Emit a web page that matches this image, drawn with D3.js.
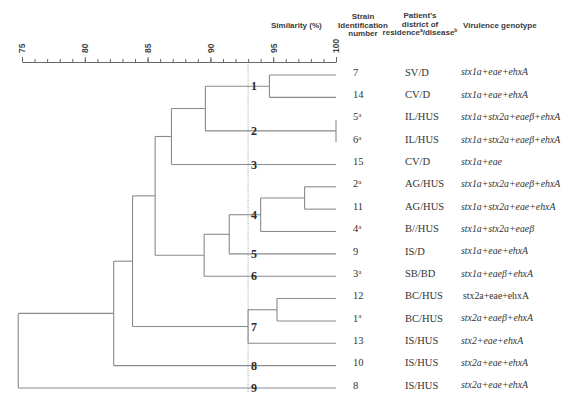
<!DOCTYPE html>
<html>
<head>
<meta charset="utf-8">
<script src="https://cdn.jsdelivr.net/npm/d3@7"></script>
<style>
  html, body { margin: 0; padding: 0; background: #fff; }
  svg { display: block; }
</style>
</head>
<body>
<svg id="chart" width="579" height="402"></svg>
<script>
// ---- data ----
const strainIds   = ["7", "14", "5", "6", "15", "2", "11", "4", "9", "3", "12", "1", "13", "10", "8"];
const strainSup   = ["",  "",   "a", "a", "",   "a", "",   "a", "",  "a", "",   "a", "",   "",   ""];
const districts   = ["SV/D", "CV/D", "IL/HUS", "IL/HUS", "CV/D", "AG/HUS", "AG/HUS", "B//HUS", "IS/D", "SB/BD", "BC/HUS", "BC/HUS", "IS/HUS", "IS/HUS", "IS/HUS"];
const genotypes   = ["stx1a+eae+ehxA", "stx1a+eae+ehxA", "stx1a+stx2a+eaeβ+ehxA", "stx1a+stx2a+eaeβ+ehxA",
                     "stx1a+eae", "stx1a+stx2a+eaeβ+ehxA", "stx1a+stx2a+eae+ehxA", "stx1a+stx2a+eaeβ",
                     "stx1a+eae+ehxA", "stx1a+eaeβ+ehxA", "stx2a+eae+ehxA", "stx2a+eaeβ+ehxA",
                     "stx2+eae+ehxA", "stx2a+eae+ehxA", "stx2a+eae+ehxA"];
const genotypeItalic = [true, true, true, true, true, true, true, true, true, true, false, true, true, true, true];
// linkage: [childA, childB, similarity %]; indices < 15 are leaves, 15+i is merge i
const merges = [
  [0, 1, 94.7],
  [2, 3, 100],
  [15, 16, 89.6],
  [17, 4, 86.9],
  [5, 6, 97.5],
  [19, 7, 94.0],
  [20, 8, 91.5],
  [21, 9, 89.5],
  [18, 22, 85.6],
  [10, 11, 95.3],
  [24, 12, 93.0],
  [23, 25, 83.8],
  [26, 13, 82.3],
  [27, 14, 74.7]
];
const clusterLabels = ["1", "2", "3", "4", "5", "6", "7", "8", "9"];
const clusterNodes  = [15, 16, 4, 20, 8, 9, 25, 13, 14];
const cutoff = 93.0;
const axisTicks = [75, 80, 85, 90, 95, 100];
const minorTicks = d3.range(75, 101, 1);

// ---- drawing ----
const svg = d3.select("#chart");
const x = d3.scaleLinear().domain([75, 100]).range([22, 336]);
const y = d3.scalePoint().domain(d3.range(strainIds.length)).range([75, 388]);

const lineColor = "#8a8a8a";
const textColor = "#333";

// node positions
const n = strainIds.length;
const nodes = [];
for (let i = 0; i < n; i++) nodes.push({ y: y(i), sim: 100 });
merges.forEach(m => {
  const a = nodes[m[0]], b = nodes[m[1]];
  nodes.push({ y: (a.y + b.y) / 2, sim: m[2], a, b });
});

// axis
const axisY = 62;
const gMinor = svg.append("g").attr("transform", `translate(0,${axisY})`)
  .call(d3.axisTop(x).tickValues(minorTicks).tickSize(3).tickSizeOuter(0).tickFormat(""));
gMinor.selectAll("path, line").attr("stroke", "#666");
const gMajor = svg.append("g").attr("transform", `translate(0,${axisY})`)
  .call(d3.axisTop(x).tickValues(axisTicks).tickSize(5).tickSizeOuter(0).tickFormat(d3.format("d")));
gMajor.select(".domain").remove();
gMajor.selectAll("line").attr("stroke", "#666");
gMajor.selectAll("text")
  .attr("transform", "rotate(-90)")
  .attr("x", 9).attr("y", 0).attr("dy", "0.35em")
  .attr("text-anchor", "start")
  .attr("fill", "#444")
  .style("font-family", "'Liberation Sans', Arial, sans-serif")
  .style("font-weight", "bold")
  .style("font-size", "8.5px");

// cutoff dashed line
svg.append("line")
  .attr("x1", x(cutoff)).attr("x2", x(cutoff))
  .attr("y1", axisY).attr("y2", 393)
  .attr("stroke", "#888").attr("stroke-width", 0.8)
  .attr("stroke-dasharray", "1,1.3");

// dendrogram
const gTree = svg.append("g").attr("fill", "none").attr("stroke", lineColor).attr("stroke-width", 1.1);
nodes.forEach(nd => {
  if (!nd.a) {
    return;
  }
  const xm = x(nd.sim);
  gTree.append("line").attr("x1", xm).attr("x2", xm).attr("y1", nd.a.y).attr("y2", nd.b.y);
  [nd.a, nd.b].forEach(c => {
    gTree.append("line").attr("x1", xm).attr("x2", x(c.sim)).attr("y1", c.y).attr("y2", c.y);
  });
});

// cluster labels
svg.append("g").selectAll("text").data(clusterLabels).join("text")
  .attr("x", x(cutoff) + 3)
  .attr("y", (d, i) => nodes[clusterNodes[i]].y)
  .attr("dy", "0.35em")
  .attr("fill", "#2a2a2a")
  .style("font-family", "'Liberation Serif', 'Times New Roman', serif")
  .style("font-weight", "600")
  .style("font-size", "12px")
  .text(d => d);

// right-hand columns
const serif = "'Liberation Serif', 'Times New Roman', serif";
const rows = svg.append("g");
const idText = rows.selectAll("text.id").data(strainIds).join("text")
  .attr("class", "id")
  .attr("x", 353)
  .attr("y", (d, i) => y(i) - 3)
  .attr("dy", "0.35em")
  .attr("fill", textColor)
  .style("font-family", serif).style("font-size", "10.5px");
idText.append("tspan").text(d => d);
idText.append("tspan")
  .attr("dy", "-0.45em")
  .style("font-size", "7px")
  .text((d, i) => strainSup[i]);

rows.selectAll("text.dist").data(districts).join("text")
  .attr("class", "dist")
  .attr("x", 405)
  .attr("y", (d, i) => y(i) - 3)
  .attr("dy", "0.35em")
  .attr("fill", textColor)
  .style("font-family", serif).style("font-size", "10.5px")
  .text(d => d);

rows.selectAll("text.geno").data(genotypes).join("text")
  .attr("class", "geno")
  .attr("x", (d, i) => genotypeItalic[i] ? 461 : 463)
  .attr("y", (d, i) => y(i) - 3)
  .attr("dy", "0.35em")
  .attr("fill", textColor)
  .style("font-family", serif).style("font-size", "9.8px")
  .style("font-style", (d, i) => genotypeItalic[i] ? "italic" : "normal")
  .text(d => d);

// headers
const hdrFont = "'Liberation Sans Narrow', 'Arial Narrow', 'Liberation Sans', Arial, sans-serif";
const hdr = svg.append("g")
  .attr("fill", "#3a3a3a")
  .style("font-family", hdrFont)
  .style("font-weight", "bold")
  .style("font-size", "8px");
hdr.append("text").attr("x", 271).attr("y", 28).text("Similarity (%)");
const strainHdr = ["Strain", "Identification", "number"];
hdr.append("text").attr("text-anchor", "middle").selectAll("tspan").data(strainHdr).join("tspan")
  .attr("x", 363).attr("y", (d, i) => 19 + i * 8.7).text(d => d);
const patHdr = hdr.append("text").attr("text-anchor", "middle");
patHdr.append("tspan").attr("x", 420).attr("y", 18).text("Patient's");
patHdr.append("tspan").attr("x", 420).attr("y", 26.7).text("district of");
const l3 = patHdr.append("tspan").attr("x", 420).attr("y", 35.4);
l3.append("tspan").text("residence");
l3.append("tspan").attr("dy", -3).style("font-size", "5px").text("a");
l3.append("tspan").attr("dy", 3).text("/disease");
l3.append("tspan").attr("dy", -3).style("font-size", "5px").text("b");
hdr.append("text").attr("x", 463).attr("y", 28).text("Virulence genotype");
</script>
</body>
</html>
